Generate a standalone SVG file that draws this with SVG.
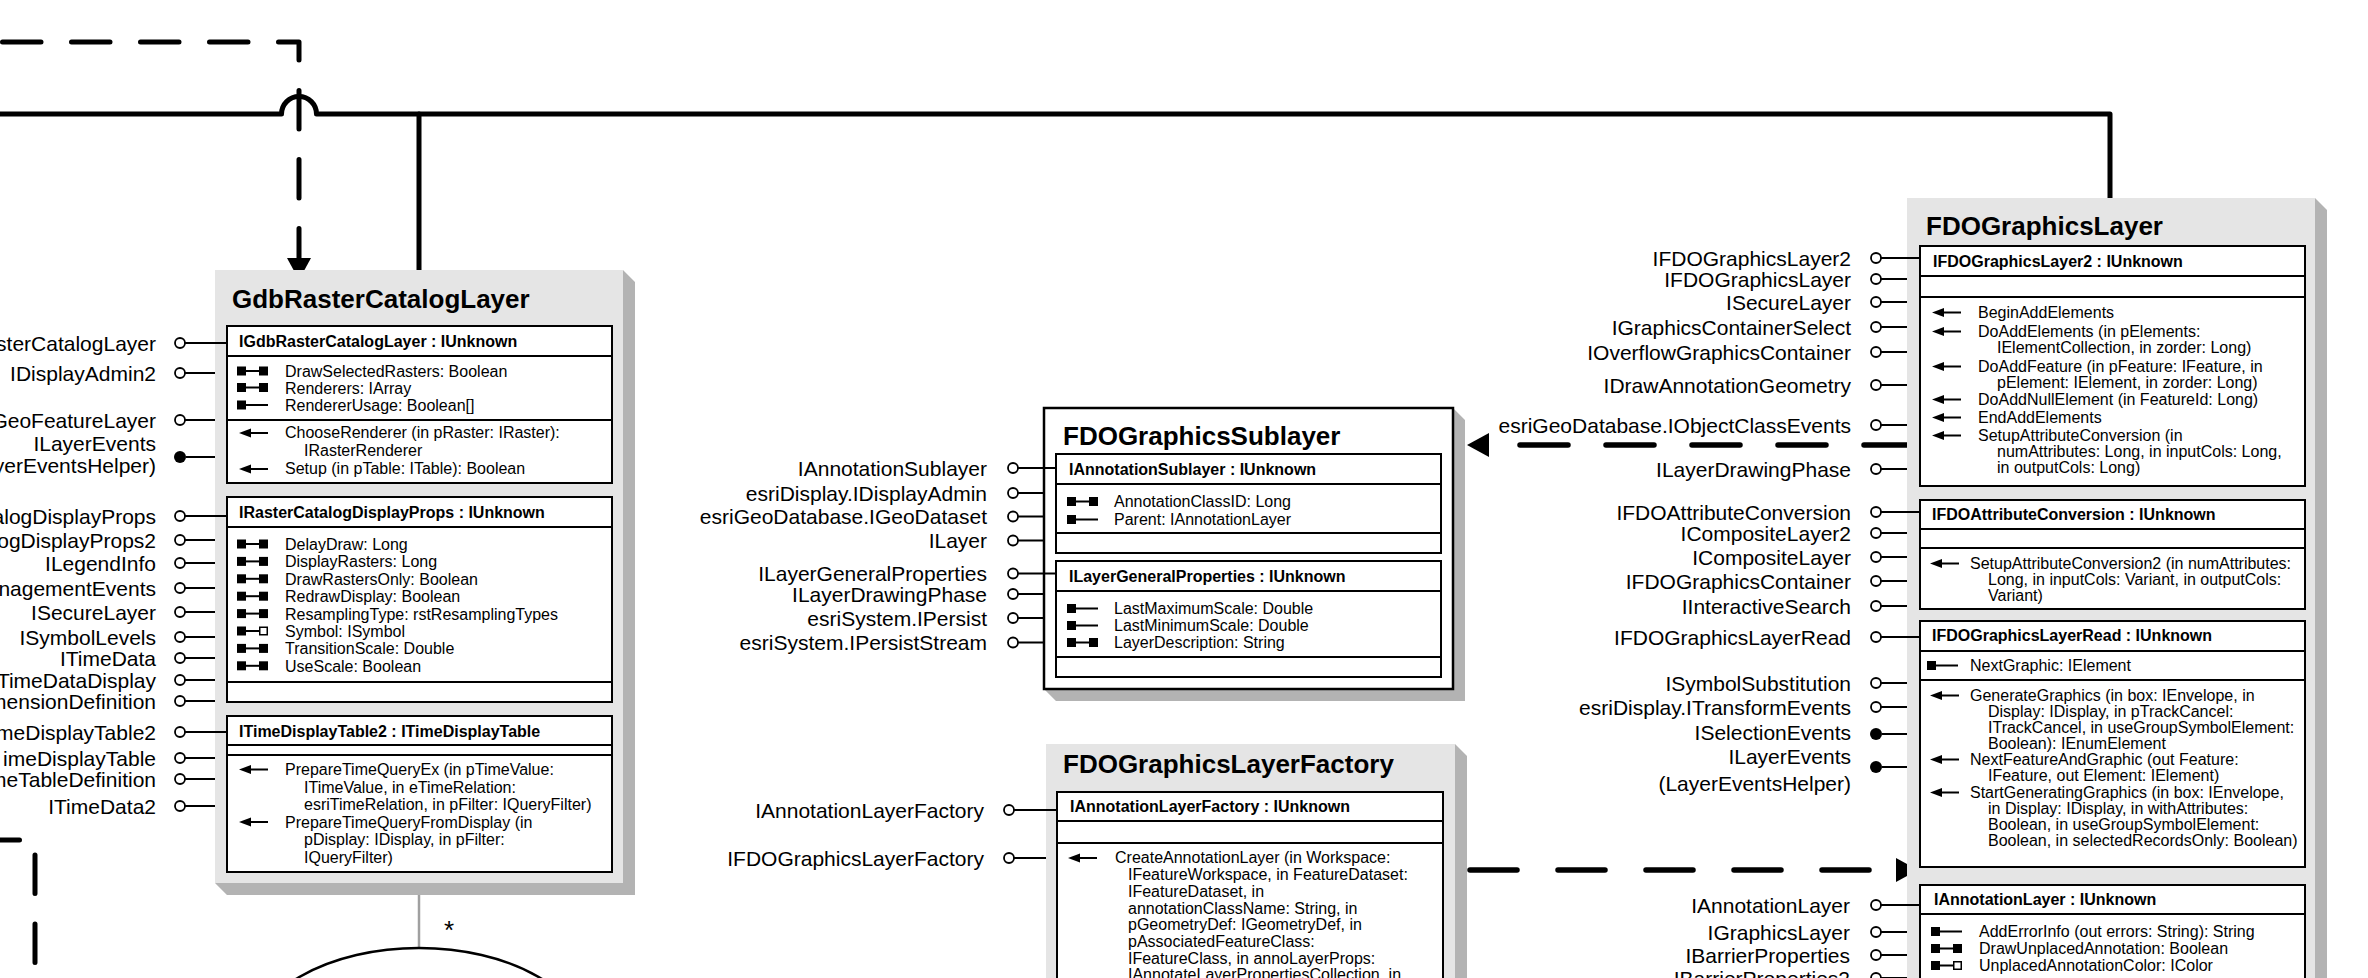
<svg xmlns="http://www.w3.org/2000/svg" xmlns:xlink="http://www.w3.org/1999/xlink" width="2368" height="978" viewBox="0 0 2368 978">
<style>
text{font-family:"Liberation Sans",Arial,sans-serif;fill:#000}
.lbl{font-size:21px;text-anchor:end}
.ttl{font-size:26px;font-weight:bold}
.hdr{font-size:16px;font-weight:bold}
.m{font-size:16px}
.ib{fill:#fff;stroke:#000;stroke-width:2}
.sep{stroke:#000;stroke-width:2;fill:none}
.gry{fill:#e5e5e5}
.shd{fill:#b3b3b3}
.ll{stroke:#000;stroke-width:2;fill:none}
.oc{fill:#fff;stroke:#000;stroke-width:1.8}
.fc{fill:#000}
.conn{fill:none;stroke:#000;stroke-width:5;stroke-linecap:round;stroke-linejoin:round}
.d1{stroke-dasharray:38.5 30.5}
.d2{stroke-dasharray:48 38;stroke-width:5.5}
.d3{stroke-dasharray:47 41;stroke-width:5.5}
</style>
<defs>
<marker id="ah" markerUnits="userSpaceOnUse" markerWidth="22" markerHeight="24" viewBox="0 0 22 24" refX="0" refY="12" orient="auto">
<path d="M0,0L22,12L0,24Z" fill="#000"/>
</marker>
<g id="rw"><rect x="0" y="-4.5" width="9" height="9" fill="#000"/><path d="M9,0H22" stroke="#000" stroke-width="2"/><rect x="22" y="-4.5" width="9" height="9" fill="#000"/></g>
<g id="ro"><rect x="0" y="-4.5" width="9" height="9" fill="#000"/><path d="M9,0H31" stroke="#000" stroke-width="2"/></g>
<g id="rr"><rect x="0" y="-4.5" width="9" height="9" fill="#000"/><path d="M9,0H22" stroke="#000" stroke-width="2"/><rect x="22.75" y="-3.75" width="7.5" height="7.5" fill="#fff" stroke="#000" stroke-width="1.5"/></g>
<g id="mt"><path d="M0,0L12,-4.5L12,4.5Z" fill="#000"/><path d="M10,0H29" stroke="#000" stroke-width="2"/></g>
</defs>
<rect width="2368" height="978" fill="#fff"/>

<g id="connectors">
<path class="conn d1" d="M2.5,42H299V258" marker-end="url(#ah)"/>
<path class="conn" d="M0,114H281.5A17.5,17.5 0 0 1 316.5,114H2110V198"/>
<path class="conn" d="M419,114V270"/>
<path class="conn d2" d="M1912,445H1489" marker-end="url(#ah)"/>
<path class="conn d3" d="M1470,870H1896" marker-end="url(#ah)"/>
<path class="conn d1" d="M-19,840H35V1000"/>
<path d="M419,893V948" stroke="#a0a0a0" stroke-width="2.5" fill="none"/>
<text x="449" y="939" font-size="26" text-anchor="middle">*</text>
</g>

<g id="GdbRasterCatalogLayer">
<polygon class="shd" points="623,270 635,282 635,895 227,895 215,883 623,883"/>
<rect class="gry" x="215" y="270" width="408" height="613"/>
<text class="ttl" x="232" y="308">GdbRasterCatalogLayer</text>
<rect class="ib" x="227" y="326" width="385" height="157"/>
<path class="sep" d="M227,356H612M227,420H612"/>
<text class="hdr" x="239" y="347">IGdbRasterCatalogLayer : IUnknown</text>
<use xlink:href="#rw" x="237" y="371"/><text class="m" x="285" y="377">DrawSelectedRasters: Boolean</text>
<use xlink:href="#rw" x="237" y="387.5"/><text class="m" x="285" y="393.5">Renderers: IArray</text>
<use xlink:href="#ro" x="237" y="405"/><text class="m" x="285" y="411">RendererUsage: Boolean[]</text>
<use xlink:href="#mt" x="239" y="433"/><text class="m" x="285" y="438">ChooseRenderer (in pRaster: IRaster):</text>
<text class="m" x="304" y="456">IRasterRenderer</text>
<use xlink:href="#mt" x="239" y="469"/><text class="m" x="285" y="474">Setup (in pTable: ITable): Boolean</text>

<rect class="ib" x="227" y="497" width="385" height="205"/>
<path class="sep" d="M227,527H612M227,682H612"/>
<text class="hdr" x="239" y="518">IRasterCatalogDisplayProps : IUnknown</text>
<use xlink:href="#rw" x="237" y="544"/><text class="m" x="285" y="550">DelayDraw: Long</text>
<use xlink:href="#rw" x="237" y="561.4"/><text class="m" x="285" y="567.4">DisplayRasters: Long</text>
<use xlink:href="#rw" x="237" y="578.8"/><text class="m" x="285" y="584.8">DrawRastersOnly: Boolean</text>
<use xlink:href="#rw" x="237" y="596.2"/><text class="m" x="285" y="602.2">RedrawDisplay: Boolean</text>
<use xlink:href="#rw" x="237" y="613.6"/><text class="m" x="285" y="619.6">ResamplingType: rstResamplingTypes</text>
<use xlink:href="#rr" x="237" y="631"/><text class="m" x="285" y="637">Symbol: ISymbol</text>
<use xlink:href="#rw" x="237" y="648.4"/><text class="m" x="285" y="654.4">TransitionScale: Double</text>
<use xlink:href="#rw" x="237" y="665.8"/><text class="m" x="285" y="671.8">UseScale: Boolean</text>

<rect class="ib" x="227" y="716" width="385" height="156"/>
<path class="sep" d="M227,745H612M227,755H612"/>
<text class="hdr" x="239" y="737">ITimeDisplayTable2 : ITimeDisplayTable</text>
<use xlink:href="#mt" x="239" y="769.5"/><text class="m" x="285" y="775">PrepareTimeQueryEx (in pTimeValue:</text>
<text class="m" x="304" y="792.5">ITimeValue, in eTimeRelation:</text>
<text class="m" x="304" y="810">esriTimeRelation, in pFilter: IQueryFilter)</text>
<use xlink:href="#mt" x="239" y="822"/><text class="m" x="285" y="827.5">PrepareTimeQueryFromDisplay (in</text>
<text class="m" x="304" y="845">pDisplay: IDisplay, in pFilter:</text>
<text class="m" x="304" y="862.5">IQueryFilter)</text>

<path class="ll" d="M185,343H227M185,373H215M185,420H215M186,457H215M185,516H227M185,540H215M185,563H215M185,588H215M185,612H215M185,637H215M185,658H215M185,680H215M185,701H215M185,732H227M185,758H215M185,779H215M185,806H215"/>
<circle class="oc" cx="180" cy="343" r="5"/><circle class="oc" cx="180" cy="373" r="5"/><circle class="oc" cx="180" cy="420" r="5"/><circle class="fc" cx="180" cy="457" r="6"/>
<circle class="oc" cx="180" cy="516" r="5"/><circle class="oc" cx="180" cy="540" r="5"/><circle class="oc" cx="180" cy="563" r="5"/><circle class="oc" cx="180" cy="588" r="5"/><circle class="oc" cx="180" cy="612" r="5"/><circle class="oc" cx="180" cy="637" r="5"/><circle class="oc" cx="180" cy="658" r="5"/><circle class="oc" cx="180" cy="680" r="5"/><circle class="oc" cx="180" cy="701" r="5"/><circle class="oc" cx="180" cy="732" r="5"/><circle class="oc" cx="180" cy="758" r="5"/><circle class="oc" cx="180" cy="779" r="5"/><circle class="oc" cx="180" cy="806" r="5"/>
<text class="lbl" x="156" y="350.5">sterCatalogLayer</text>
<text class="lbl" x="156" y="380.5">IDisplayAdmin2</text>
<text class="lbl" x="156" y="427.5">GeoFeatureLayer</text>
<text class="lbl" x="156" y="450.5">ILayerEvents</text>
<text class="lbl" x="156" y="472.5">yerEventsHelper)</text>
<text class="lbl" x="156" y="523.5">alogDisplayProps</text>
<text class="lbl" x="156" y="547.5">ogDisplayProps2</text>
<text class="lbl" x="156" y="570.5">ILegendInfo</text>
<text class="lbl" x="156" y="595.5">nagementEvents</text>
<text class="lbl" x="156" y="619.5">ISecureLayer</text>
<text class="lbl" x="156" y="644.5">ISymbolLevels</text>
<text class="lbl" x="156" y="665.5">ITimeData</text>
<text class="lbl" x="156" y="687.5">TimeDataDisplay</text>
<text class="lbl" x="156" y="708.5">mensionDefinition</text>
<text class="lbl" x="156" y="739.5">meDisplayTable2</text>
<text class="lbl" x="156" y="765.5">imeDisplayTable</text>
<text class="lbl" x="156" y="786.5">meTableDefinition</text>
<text class="lbl" x="156" y="813.5">ITimeData2</text>
</g>

<g id="FDOGraphicsSublayer">
<polygon class="shd" points="1453,408 1465,420 1465,701 1056,701 1044,689 1453,689"/>
<rect x="1044" y="408" width="409" height="281" fill="#fff" stroke="#000" stroke-width="2.5"/>
<text class="ttl" x="1063" y="445">FDOGraphicsSublayer</text>
<rect class="ib" x="1056" y="454" width="385" height="99"/>
<path class="sep" d="M1056,484H1441M1056,533H1441"/>
<text class="hdr" x="1069" y="475">IAnnotationSublayer : IUnknown</text>
<use xlink:href="#rw" x="1067" y="501.5"/><text class="m" x="1114" y="507">AnnotationClassID: Long</text>
<use xlink:href="#ro" x="1067" y="519.5"/><text class="m" x="1114" y="525">Parent: IAnnotationLayer</text>
<rect class="ib" x="1056" y="561" width="385" height="116"/>
<path class="sep" d="M1056,591H1441M1056,657H1441"/>
<text class="hdr" x="1069" y="582">ILayerGeneralProperties : IUnknown</text>
<use xlink:href="#ro" x="1067" y="608.5"/><text class="m" x="1114" y="614">LastMaximumScale: Double</text>
<use xlink:href="#ro" x="1067" y="625.5"/><text class="m" x="1114" y="631">LastMinimumScale: Double</text>
<use xlink:href="#rw" x="1067" y="642.5"/><text class="m" x="1114" y="648">LayerDescription: String</text>
<path class="ll" d="M1018,468H1056M1018,493H1044M1018,516.5H1044M1018,540.5H1044M1018,573.5H1056M1018,594H1044M1018,618H1044M1018,642.5H1044"/>
<circle class="oc" cx="1013" cy="468" r="5"/><circle class="oc" cx="1013" cy="493" r="5"/><circle class="oc" cx="1013" cy="516.5" r="5"/><circle class="oc" cx="1013" cy="540.5" r="5"/><circle class="oc" cx="1013" cy="573.5" r="5"/><circle class="oc" cx="1013" cy="594" r="5"/><circle class="oc" cx="1013" cy="618" r="5"/><circle class="oc" cx="1013" cy="642.5" r="5"/>
<text class="lbl" x="987" y="475.5">IAnnotationSublayer</text>
<text class="lbl" x="987" y="500.5">esriDisplay.IDisplayAdmin</text>
<text class="lbl" x="987" y="524">esriGeoDatabase.IGeoDataset</text>
<text class="lbl" x="987" y="548">ILayer</text>
<text class="lbl" x="987" y="581">ILayerGeneralProperties</text>
<text class="lbl" x="987" y="601.5">ILayerDrawingPhase</text>
<text class="lbl" x="987" y="625.5">esriSystem.IPersist</text>
<text class="lbl" x="987" y="650">esriSystem.IPersistStream</text>
</g>

<g id="FDOGraphicsLayerFactory">
<polygon class="shd" points="1455,744 1467,756 1467,990 1455,990"/>
<rect class="gry" x="1046" y="744" width="409" height="246"/>
<text class="ttl" x="1063" y="773">FDOGraphicsLayerFactory</text>
<rect class="ib" x="1057" y="792" width="386" height="200"/>
<path class="sep" d="M1057,821H1443M1057,843H1443"/>
<text class="hdr" x="1070" y="812">IAnnotationLayerFactory : IUnknown</text>
<use xlink:href="#mt" x="1068" y="858"/><text class="m" x="1115" y="863">CreateAnnotationLayer (in Workspace:</text>
<text class="m" x="1128" y="880">IFeatureWorkspace, in FeatureDataset:</text>
<text class="m" x="1128" y="897">IFeatureDataset, in</text>
<text class="m" x="1128" y="913.5">annotationClassName: String, in</text>
<text class="m" x="1128" y="930">pGeometryDef: IGeometryDef, in</text>
<text class="m" x="1128" y="947">pAssociatedFeatureClass:</text>
<text class="m" x="1128" y="963.5">IFeatureClass, in annoLayerProps:</text>
<text class="m" x="1128" y="980">IAnnotateLayerPropertiesCollection, in</text>
<path class="ll" d="M1014,810H1057M1014,858H1046"/>
<circle class="oc" cx="1009" cy="810" r="5"/><circle class="oc" cx="1009" cy="858" r="5"/>
<text class="lbl" x="984" y="817.5">IAnnotationLayerFactory</text>
<text class="lbl" x="984" y="865.5">IFDOGraphicsLayerFactory</text>
</g>

<g id="FDOGraphicsLayer">
<polygon class="shd" points="2315,198 2327,210 2327,990 2315,990"/>
<rect class="gry" x="1907" y="198" width="408" height="792"/>
<text class="ttl" x="1926" y="235">FDOGraphicsLayer</text>
<rect class="ib" x="1920" y="246" width="385" height="240"/>
<path class="sep" d="M1920,276H2305M1920,297H2305"/>
<text class="hdr" x="1933" y="267">IFDOGraphicsLayer2 : IUnknown</text>
<use xlink:href="#mt" x="1932" y="312.5"/><text class="m" x="1978" y="318">BeginAddElements</text>
<use xlink:href="#mt" x="1932" y="331.5"/><text class="m" x="1978" y="337">DoAddElements (in pElements:</text>
<text class="m" x="1997" y="353">IElementCollection, in zorder: Long)</text>
<use xlink:href="#mt" x="1932" y="366.5"/><text class="m" x="1978" y="372">DoAddFeature (in pFeature: IFeature, in</text>
<text class="m" x="1997" y="387.5">pElement: IElement, in zorder: Long)</text>
<use xlink:href="#mt" x="1932" y="399.5"/><text class="m" x="1978" y="405">DoAddNullElement (in FeatureId: Long)</text>
<use xlink:href="#mt" x="1932" y="417.5"/><text class="m" x="1978" y="423">EndAddElements</text>
<use xlink:href="#mt" x="1932" y="435.5"/><text class="m" x="1978" y="441">SetupAttributeConversion (in</text>
<text class="m" x="1997" y="457">numAttributes: Long, in inputCols: Long,</text>
<text class="m" x="1997" y="473">in outputCols: Long)</text>

<rect class="ib" x="1920" y="500" width="385" height="109"/>
<path class="sep" d="M1920,529H2305M1920,548H2305"/>
<text class="hdr" x="1932" y="520">IFDOAttributeConversion : IUnknown</text>
<use xlink:href="#mt" x="1930" y="563.5"/><text class="m" x="1970" y="569">SetupAttributeConversion2 (in numAttributes:</text>
<text class="m" x="1988" y="585">Long, in inputCols: Variant, in outputCols:</text>
<text class="m" x="1988" y="601">Variant)</text>

<rect class="ib" x="1920" y="621" width="385" height="246"/>
<path class="sep" d="M1920,651H2305M1920,680H2305"/>
<text class="hdr" x="1932" y="641">IFDOGraphicsLayerRead : IUnknown</text>
<use xlink:href="#ro" x="1927" y="665.5"/><text class="m" x="1970" y="671">NextGraphic: IElement</text>
<use xlink:href="#mt" x="1930" y="695.5"/><text class="m" x="1970" y="701">GenerateGraphics (in box: IEnvelope, in</text>
<text class="m" x="1988" y="717">Display: IDisplay, in pTrackCancel:</text>
<text class="m" x="1988" y="733">ITrackCancel, in useGroupSymbolElement:</text>
<text class="m" x="1988" y="749">Boolean): IEnumElement</text>
<use xlink:href="#mt" x="1930" y="759.5"/><text class="m" x="1970" y="765">NextFeatureAndGraphic (out Feature:</text>
<text class="m" x="1988" y="781">IFeature, out Element: IElement)</text>
<use xlink:href="#mt" x="1930" y="792.5"/><text class="m" x="1970" y="798">StartGeneratingGraphics (in box: IEnvelope,</text>
<text class="m" x="1988" y="814">in Display: IDisplay, in withAttributes:</text>
<text class="m" x="1988" y="830">Boolean, in useGroupSymbolElement:</text>
<text class="m" x="1988" y="846">Boolean, in selectedRecordsOnly: Boolean)</text>

<rect class="ib" x="1920" y="885" width="385" height="110"/>
<path class="sep" d="M1920,914H2305"/>
<text class="hdr" x="1934" y="905">IAnnotationLayer : IUnknown</text>
<use xlink:href="#ro" x="1931" y="931.5"/><text class="m" x="1979" y="937">AddErrorInfo (out errors: String): String</text>
<use xlink:href="#rw" x="1931" y="948.5"/><text class="m" x="1979" y="954">DrawUnplacedAnnotation: Boolean</text>
<use xlink:href="#rr" x="1931" y="965.5"/><text class="m" x="1979" y="971">UnplacedAnnotationColor: IColor</text>

<path class="ll" d="M1881,258H1920M1881,279H1907M1881,302H1907M1881,327H1907M1881,352H1907M1881,385H1907M1881,425H1907M1881,469H1907M1881,512H1920M1881,533H1907M1881,557H1907M1881,581H1907M1881,606H1907M1881,637H1920M1881,683H1907M1881,707H1907M1882,734H1907M1882,767H1907M1881,905H1920M1881,932H1907M1881,955H1907M1881,978H1907"/>
<circle class="oc" cx="1876" cy="258" r="5"/><circle class="oc" cx="1876" cy="279" r="5"/><circle class="oc" cx="1876" cy="302" r="5"/><circle class="oc" cx="1876" cy="327" r="5"/><circle class="oc" cx="1876" cy="352" r="5"/><circle class="oc" cx="1876" cy="385" r="5"/><circle class="oc" cx="1876" cy="425" r="5"/><circle class="oc" cx="1876" cy="469" r="5"/>
<circle class="oc" cx="1876" cy="512" r="5"/><circle class="oc" cx="1876" cy="533" r="5"/><circle class="oc" cx="1876" cy="557" r="5"/><circle class="oc" cx="1876" cy="581" r="5"/><circle class="oc" cx="1876" cy="606" r="5"/><circle class="oc" cx="1876" cy="637" r="5"/><circle class="oc" cx="1876" cy="683" r="5"/><circle class="oc" cx="1876" cy="707" r="5"/><circle class="fc" cx="1876" cy="734" r="6"/><circle class="fc" cx="1876" cy="767" r="6"/>
<circle class="oc" cx="1876" cy="905" r="5"/><circle class="oc" cx="1876" cy="932" r="5"/><circle class="oc" cx="1876" cy="955" r="5"/><circle class="oc" cx="1876" cy="978" r="5"/>
<text class="lbl" x="1851" y="265.5">IFDOGraphicsLayer2</text>
<text class="lbl" x="1851" y="286.5">IFDOGraphicsLayer</text>
<text class="lbl" x="1851" y="309.5">ISecureLayer</text>
<text class="lbl" x="1851" y="334.5">IGraphicsContainerSelect</text>
<text class="lbl" x="1851" y="359.5">IOverflowGraphicsContainer</text>
<text class="lbl" x="1851" y="392.5">IDrawAnnotationGeometry</text>
<text class="lbl" x="1851" y="432.5">esriGeoDatabase.IObjectClassEvents</text>
<text class="lbl" x="1851" y="476.5">ILayerDrawingPhase</text>
<text class="lbl" x="1851" y="519.5">IFDOAttributeConversion</text>
<text class="lbl" x="1851" y="540.5">ICompositeLayer2</text>
<text class="lbl" x="1851" y="564.5">ICompositeLayer</text>
<text class="lbl" x="1851" y="588.5">IFDOGraphicsContainer</text>
<text class="lbl" x="1851" y="613.5">IInteractiveSearch</text>
<text class="lbl" x="1851" y="644.5">IFDOGraphicsLayerRead</text>
<text class="lbl" x="1851" y="691">ISymbolSubstitution</text>
<text class="lbl" x="1851" y="715">esriDisplay.ITransformEvents</text>
<text class="lbl" x="1851" y="739.5">ISelectionEvents</text>
<text class="lbl" x="1851" y="763.5">ILayerEvents</text>
<text class="lbl" x="1851" y="790.5">(LayerEventsHelper)</text>
<text class="lbl" x="1850" y="912.5">IAnnotationLayer</text>
<text class="lbl" x="1850" y="939.5">IGraphicsLayer</text>
<text class="lbl" x="1850" y="962.5">IBarrierProperties</text>
<text class="lbl" x="1850" y="985.5">IBarrierProperties2</text>
</g>

<g id="aggregate-node">
<ellipse cx="419" cy="1048" rx="170" ry="100" fill="#fff" stroke="#000" stroke-width="2.5"/>
</g>
</svg>
